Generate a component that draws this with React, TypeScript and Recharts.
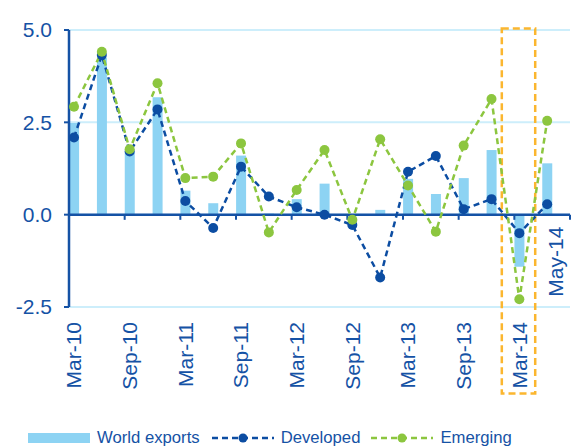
import { Bar, CartesianGrid, ComposedChart, Line, ReferenceArea, ReferenceDot, ReferenceLine, XAxis, YAxis } from "recharts";

const quarters = [
  "Mar-10", "Jun-10", "Sep-10", "Dec-10",
  "Mar-11", "Jun-11", "Sep-11", "Dec-11",
  "Mar-12", "Jun-12", "Sep-12", "Dec-12",
  "Mar-13", "Jun-13", "Sep-13", "Dec-13",
  "Mar-14", "May-14",
];
const worldExports = [2.48, 4.25, 1.71, 3.18, 0.65, 0.31, 1.6, 0.03, 0.42, 0.84, 0.02, 0.13, 0.97, 0.56, 0.99, 1.75, -1.41, 1.39];
const developed = [2.09, 4.32, 1.71, 2.85, 0.37, -0.36, 1.3, 0.49, 0.2, 0.0, -0.28, -1.7, 1.16, 1.59, 0.15, 0.42, -0.5, 0.28];
const emerging = [2.92, 4.41, 1.77, 3.56, 0.99, 1.03, 1.93, -0.48, 0.67, 1.75, -0.14, 2.04, 0.79, -0.46, 1.87, 3.13, -2.29, 2.54];
const yTicks = [-2.5, 0, 2.5, 5];
const labelTicks = [0, 2, 4, 6, 8, 10, 12, 14, 16];
const tickMarks = [-0.18, 1.82, 3.82, 5.82, 7.82, 9.82, 11.82, 13.82, 15.82, 17.82];

const data = quarters.map((q, i) => ({ i, q, world: worldExports[i], dev: developed[i], em: emerging[i] }));

const navy = "#1552a5";
const devBlue = "#0c4da2";
const green = "#8cc63f";
const barBlue = "#8dd3f3";
const grid = "#cdeefb";
const orange = "#fbb62f";
const font = "'Liberation Sans', Arial, sans-serif";

function XTick({ x, y, payload }: any) {
  return (
    <text transform={`translate(${x},${y}) rotate(-90)`} textAnchor="end" dy="0.35em" fontSize={21} fill={navy} fontFamily={font}>
      {quarters[payload.value]}
    </text>
  );
}

function LastLabel({ cx, cy }: any) {
  return (
    <text transform={`translate(${cx},${cy + 12}) rotate(-90)`} textAnchor="end" dy="0.35em" fontSize={21} fill={navy} fontFamily={font}>
      {quarters[17]}
    </text>
  );
}

function LegendLine({ color }: { color: string }) {
  return (
    <svg width={62} height={12} style={{ marginRight: 7 }}>
      <line x1={0} y1={6} x2={62} y2={6} stroke={color} strokeWidth={2.5} strokeDasharray="6 4" />
      <circle cx={31} cy={6} r={4.5} fill={color} />
    </svg>
  );
}

export default function App() {
  return (
    <div style={{ position: "absolute", left: 0, top: 0, width: 581, height: 448, fontFamily: font }}>
      <ComposedChart width={581} height={448} data={data} margin={{ top: 30, right: 11, bottom: 0, left: 0 }}>
        <CartesianGrid horizontal vertical={false} stroke={grid} strokeWidth={2} />
        <ReferenceArea x1={15.37} x2={16.57} y1={-4.84} y2={5.04} ifOverflow="visible" fill="none" stroke={orange} strokeWidth={2.5} strokeDasharray="7 4" />
        <XAxis
          dataKey="i"
          type="number"
          domain={[-0.18, 17.82]}
          ticks={labelTicks}
          interval={0}
          axisLine={false}
          tickLine={false}
          tickSize={0}
          tickMargin={15}
          height={141}
          tick={<XTick />}
        />
        <YAxis
          type="number"
          domain={[-2.5, 5]}
          ticks={yTicks}
          width={69}
          axisLine={{ stroke: navy, strokeWidth: 2.5 }}
          tickLine={{ stroke: navy, strokeWidth: 2 }}
          tickSize={5}
          tickMargin={12}
          tickFormatter={(v: number) => v.toFixed(1)}
          tick={{ fontSize: 21, fill: navy, fontFamily: font }}
        />
        <Bar dataKey="world" fill={barBlue} barSize={10} isAnimationActive={false} />
        <ReferenceLine y={0} stroke={navy} strokeWidth={2.5} />
        {tickMarks.map((t) => (
          <ReferenceLine key={t} segment={[{ x: t, y: 0 }, { x: t, y: -0.14 }]} stroke={navy} strokeWidth={2} ifOverflow="visible" />
        ))}
        <Line dataKey="dev" type="linear" stroke={devBlue} strokeWidth={2.5} strokeDasharray="6 4" dot={{ r: 5, fill: devBlue, stroke: "none" }} isAnimationActive={false} />
        <Line dataKey="em" type="linear" stroke={green} strokeWidth={2.5} strokeDasharray="6 4" dot={{ r: 5, fill: green, stroke: "none" }} isAnimationActive={false} />
        <ReferenceDot x={17.32} y={0} r={0} ifOverflow="visible" shape={<LastLabel />} />
      </ComposedChart>
      <div style={{ position: "absolute", left: 28, top: 428, display: "flex", alignItems: "center", fontSize: 16.7, color: navy, whiteSpace: "nowrap" }}>
        <span style={{ display: "inline-block", width: 62, height: 10, background: barBlue, marginRight: 7 }} />
        <span style={{ marginRight: 12 }}>World exports</span>
        <LegendLine color={devBlue} />
        <span style={{ marginRight: 11 }}>Developed</span>
        <LegendLine color={green} />
        <span>Emerging</span>
      </div>
    </div>
  );
}
